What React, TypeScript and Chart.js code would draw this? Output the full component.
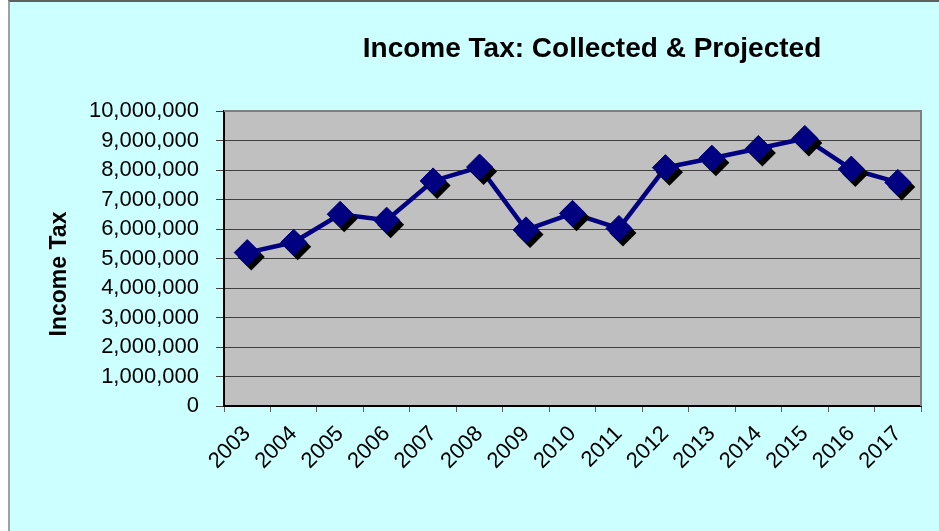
import { useEffect, useRef } from "react";
import { Chart, registerables } from "chart.js";

Chart.register(...registerables);

const years = ["2003", "2004", "2005", "2006", "2007", "2008", "2009", "2010", "2011", "2012", "2013", "2014", "2015", "2016", "2017"];
const incomeTax = [5200000, 5550000, 6500000, 6300000, 7630000, 8100000, 5970000, 6530000, 6020000, 8080000, 8400000, 8730000, 9070000, 8030000, 7580000];
const yMin = 0;
const yMax = 10000000;
const yStep = 1000000;
const chartTitle = "Income Tax: Collected & Projected";
const yAxisTitle = "Income Tax";

const FONT = "'Liberation Sans', Arial, Helvetica, sans-serif";

const decorPlugin = {
  id: "decor",
  beforeDraw(chart: any) {
    const { ctx, chartArea: a } = chart;
    ctx.save();
    ctx.fillStyle = "#C0C0C0";
    ctx.fillRect(a.left, a.top, a.right - a.left, a.bottom - a.top);
    ctx.restore();
  },
  beforeDatasetsDraw(chart: any) {
    const { ctx, chartArea: a } = chart;
    ctx.save();
    ctx.strokeStyle = "#808080";
    ctx.lineWidth = 2;
    ctx.beginPath();
    ctx.moveTo(a.left, a.top);
    ctx.lineTo(a.right, a.top);
    ctx.lineTo(a.right, a.bottom);
    ctx.stroke();
    ctx.restore();
  },
  beforeDatasetDraw(chart: any, args: any) {
    if (args.index !== 0) return;
    const { ctx } = chart;
    const meta = chart.getDatasetMeta(0);
    ctx.save();
    ctx.fillStyle = "#000000";
    const r = 13.5;
    meta.data.forEach((p: any) => {
      const x = p.x + 4;
      const y = p.y + 4.5;
      ctx.beginPath();
      ctx.moveTo(x, y - r);
      ctx.lineTo(x + r, y);
      ctx.lineTo(x, y + r);
      ctx.lineTo(x - r, y);
      ctx.closePath();
      ctx.fill();
    });
    ctx.restore();
  },
  afterDraw(chart: any) {
    const { ctx } = chart;
    ctx.save();
    ctx.fillStyle = "#000000";
    ctx.font = `bold 28px ${FONT}`;
    ctx.textAlign = "center";
    ctx.textBaseline = "alphabetic";
    ctx.fillText(chartTitle, 582, 55);
    ctx.translate(50, 272);
    ctx.rotate(-Math.PI / 2);
    ctx.font = `bold 23px ${FONT}`;
    ctx.textBaseline = "middle";
    ctx.fillText(yAxisTitle, 0, 0);
    ctx.restore();
  },
};

export default function App() {
  const canvasRef = useRef<HTMLCanvasElement | null>(null);

  useEffect(() => {
    if (!canvasRef.current) return;
    const chart = new Chart(canvasRef.current, {
      type: "line",
      data: {
        labels: years,
        datasets: [
          {
            label: "Income Tax markers",
            data: incomeTax,
            showLine: false,
            pointStyle: "rectRot",
            pointRadius: 13,
            pointHoverRadius: 13,
            pointBackgroundColor: "#000080",
            pointBorderColor: "#000080",
            pointBorderWidth: 1,
          },
          {
            label: "Income Tax",
            data: incomeTax,
            borderColor: "#000080",
            borderWidth: 4.5,
            pointRadius: 0,
            tension: 0,
            fill: false,
          },
        ],
      },
      options: {
        responsive: false,
        animation: false,
        events: [],
        layout: { padding: { top: 109, right: 18, left: 0, bottom: 0 } },
        plugins: {
          legend: { display: false },
          tooltip: { enabled: false },
          title: { display: false },
        },
        scales: {
          x: {
            offset: true,
            afterFit: (s: any) => {
              s.height = 125;
            },
            grid: {
              offset: true,
              drawOnChartArea: false,
              drawTicks: true,
              tickLength: 6,
              color: "#606060",
              tickColor: "#606060",
            },
            border: { display: true, color: "#000000", width: 2 },
            ticks: {
              autoSkip: false,
              minRotation: 45,
              maxRotation: 45,
              color: "#000000",
              padding: 9,
              font: { family: FONT, size: 22 },
            },
          },
          y: {
            min: yMin,
            max: yMax,
            afterFit: (s: any) => {
              s.width = 214;
            },
            grid: {
              color: "#404040",
              lineWidth: 1,
              tickLength: 8,
              tickColor: "#404040",
            },
            border: { display: true, color: "#000000", width: 2 },
            ticks: {
              stepSize: yStep,
              color: "#000000",
              padding: 17,
              font: { family: FONT, size: 22 },
              callback: (v: any) => Number(v).toLocaleString("en-US"),
            },
          },
        },
      },
      plugins: [decorPlugin],
    });
    return () => chart.destroy();
  }, []);

  return (
    <div style={{ position: "fixed", left: 0, top: 0, width: 939, height: 531, background: "#ffffff", overflow: "hidden" }}>
      <div
        style={{
          position: "absolute",
          left: 8,
          top: 0,
          width: 931,
          height: 531,
          boxSizing: "border-box",
          borderLeft: "2px solid #a0a0a0",
          borderTop: "2px solid #606060",
          background: "#CCFFFF",
        }}
      >
        <canvas ref={canvasRef} width={929} height={529} style={{ display: "block" }} />
      </div>
    </div>
  );
}
